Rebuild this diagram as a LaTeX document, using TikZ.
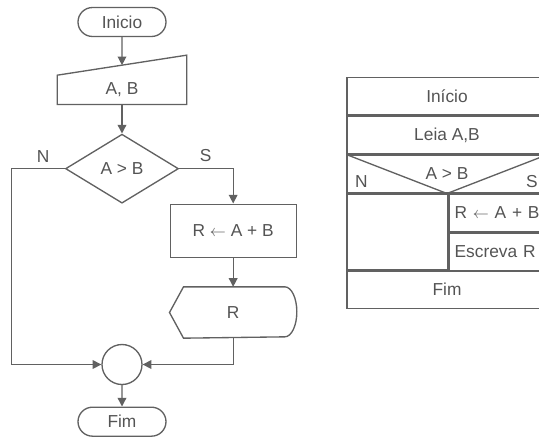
\documentclass[tikz,border=0pt]{standalone}
\usepackage{fontspec}
\setmainfont{Liberation Sans}
\usetikzlibrary{arrows.meta, positioning, shapes.geometric, shapes.misc, calc}
\definecolor{linegray}{gray}{0.38}
\definecolor{textgray}{gray}{0.33}
\tikzset{
  terminal/.style={draw, rounded rectangle, minimum width=66pt, minimum height=21.75pt, inner sep=0pt},
  inputbox/.style={minimum width=96pt, minimum height=21pt, inner sep=0pt},
  decision/.style={draw, diamond, minimum width=84.75pt, minimum height=51.75pt, inner sep=0pt},
  process/.style={draw, minimum width=94.5pt, minimum height=39.75pt, inner sep=0pt},
  displaybox/.style={minimum width=94.5pt, minimum height=37.5pt, inner sep=0pt},
  joint/.style={draw, circle, minimum size=30pt, inner sep=0pt},
  lbl/.style={inner sep=0pt},
  nsrow/.style={draw, minimum width=150pt, minimum height=28.25pt, inner sep=0pt},
  nscell/.style={draw, minimum width=74.25pt, minimum height=28.25pt, text width=66.25pt, inner xsep=4pt, inner ysep=0pt, align=left},
  nsblank/.style={draw, minimum width=75.75pt, minimum height=56.5pt, inner sep=0pt}
}

\begin{document}
\begin{tikzpicture}[>={Triangle[length=6.5pt, width=6.5pt]}, line width=1pt, draw=linegray, text=textgray,
    font=\fontsize{13}{15}\selectfont]
    \useasboundingbox (-91.5pt,16.5pt) rectangle (312.75pt,-311.25pt);
    % Fluxograma
    \node[terminal] (ini) at (0,0) {Inicio};
    \node[inputbox, below=28.5pt of ini] (ab) {A, B};
    \draw (ab.south west) -- (ab.south east) -- ($(ab.north east)+(0,15pt)$) -- (ab.north west) -- cycle;
    \coordinate (abtop) at ($(ab.north)+(0,7.5pt)$);
    \node[decision, below=21.75pt of ab] (dec) {A > B};
    \node[process] (calc) at ($(dec.east)+(40.5pt,-46.5pt)$) {R $\leftarrow$ A + B};
    \node[displaybox, below=21.75pt of calc] (out) {R};
    \draw ($(out.north west)+(10.5pt,0)$) -- ($(out.north east)+(-9pt,0)$)
      arc[start angle=90, end angle=-90, x radius=9pt, y radius=18.75pt]
      -- ($(out.south west)+(10.5pt,0)$) -- (out.west) -- cycle;
    \node[joint, below=105pt of dec] (join) {};
    \node[terminal, below=16pt of join] (fim) {Fim};
    \coordinate (nleft) at ($(dec.west)+(-39.75pt,0)$);

    % Setas
    \draw[->] (ini) -- (abtop);
    \draw[->] (ab) -- (dec);
    \draw[->] (dec.east) -| (calc.north);
    \draw[->] (calc) -- (out);
    \draw[->] (dec.west) -- (nleft) |- (join.west);
    \draw[->] (out.south) |- (join.east);
    \draw[->] (join) -- (fim);
    \node[lbl, above left=4.5pt and 11pt of dec.west] (labn) {N};
    \node[lbl, above right=4.5pt and 15pt of dec.east] (labs) {S};

    % Diagrama de Nassi-Shneiderman
    \node[nsrow] (nsini) at ($(ini)+(243.75pt,-55.5pt)$) {Início};
    \node[nsrow, below=0pt of nsini] (nsleia) {Leia A,B};
    \node[nsrow, below=0pt of nsleia] (nscond) {A > B};
    \draw (nscond.north west) -- (nscond.south) -- (nscond.north east);
    \node[lbl, anchor=south west] (nsn) at ($(nscond.south west)+(6pt,3.75pt)$) {N};
    \node[lbl, anchor=south east] (nss) at ($(nscond.south east)+(-7pt,3.75pt)$) {S};
    \node[nsblank, anchor=north west] (nsno) at (nscond.south west) {};
    \node[nscell, anchor=north west] (nssum) at (nsno.north east) {R $\leftarrow$ A + B};
    \node[nscell, below=0pt of nssum] (nsesc) {Escreva R};
    \node[nsrow, anchor=north west] (nsfim) at (nsno.south west) {Fim};
\end{tikzpicture}
\end{document}
